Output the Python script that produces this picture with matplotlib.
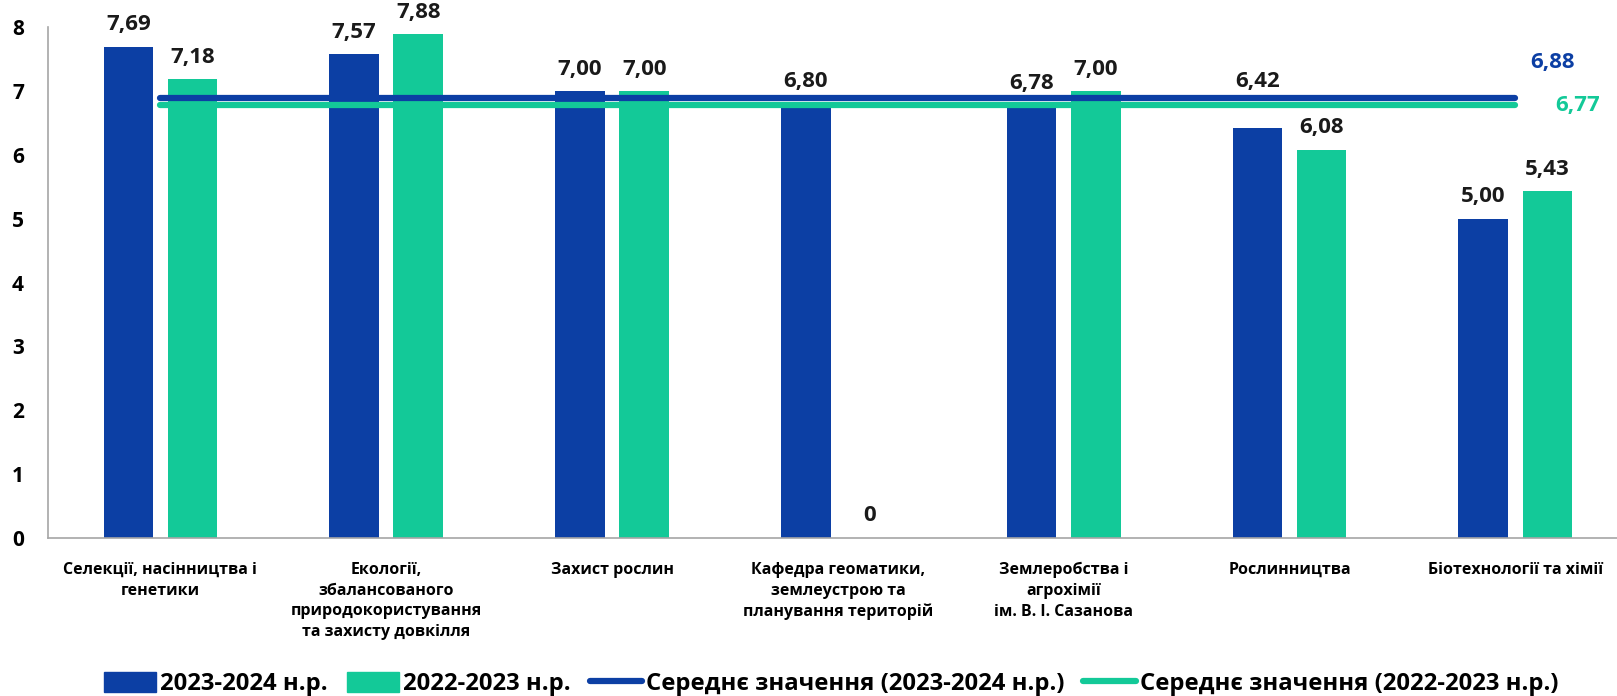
import matplotlib.pyplot as plt
import numpy as np
from matplotlib.patches import Patch
from matplotlib.lines import Line2D

plt.rcParams['font.family'] = ['Open Sans', 'DejaVu Sans']
plt.rcParams['font.weight'] = 'bold'

kafedry = ['Селекції, насінництва і\nгенетики',
           'Екології,\nзбалансованого\nприродокористування\nта захисту довкілля',
           'Захист рослин',
           'Кафедра геоматики,\nземлеустрою та\nпланування територій',
           'Землеробства і\nагрохімії\nім. В. І. Сазанова',
           'Рослинництва',
           'Біотехнології та хімії']
val_2324 = [7.69, 7.57, 7.00, 6.80, 6.78, 6.42, 5.00]
val_2223 = [7.18, 7.88, 7.00, 0, 7.00, 6.08, 5.43]
avg_2324 = 6.88
avg_2223 = 6.77

lbl_2324 = ['7,69', '7,57', '7,00', '6,80', '6,78', '6,42', '5,00']
lbl_2223 = ['7,18', '7,88', '7,00', '0', '7,00', '6,08', '5,43']

blue = '#0C3FA4'
green = '#13C998'

fig = plt.figure(figsize=(16.17, 6.96), dpi=100)
ax = fig.add_axes([47.5 / 1617, 0.2266, 1 - 47.5 / 1617, 0.9616 - 0.2266])

x = np.arange(len(kafedry))
w = 0.22
off = 0.142

ax.bar(x - off, val_2324, w, color=blue)
ax.bar(x + off, val_2223, w, color=green)

for i, (xi, v, t) in enumerate(zip(x, val_2324, lbl_2324)):
    dy = 26 if i == 5 else 8
    ax.annotate(t, (xi - off, v), xytext=(0, dy), textcoords='offset points',
                ha='center', va='bottom', fontsize=16, fontweight='bold', color='#1a1a1a')
for xi, v, t in zip(x, val_2223, lbl_2223):
    ax.annotate(t, (xi + off, v), xytext=(0, 8 if v > 0 else 9), textcoords='offset points',
                ha='center', va='bottom', fontsize=16, fontweight='bold', color='#1a1a1a')

# середні значення
ax.plot([x[0], x[-1]], [avg_2324, avg_2324], color=blue, lw=4.5, solid_capstyle='round', zorder=3)
ax.plot([x[0], x[-1]], [avg_2223, avg_2223], color=green, lw=4.5, solid_capstyle='round', zorder=3)
ax.annotate('6,88', (x[-1], avg_2324), xytext=(27, 26), textcoords='offset points',
            ha='center', va='center', fontsize=16, fontweight='bold', color=blue)
ax.annotate('6,77', (x[-1], avg_2223), xytext=(45, 0), textcoords='offset points',
            ha='center', va='center', fontsize=16, fontweight='bold', color=green)

ax.set_xlim(-0.5, 6.45)
ax.set_ylim(0, 8)
ax.set_yticks(range(0, 9))
ax.set_xticks(x)
ax.set_xticklabels(kafedry, fontsize=11.5, fontweight='bold', linespacing=1.4)
ax.tick_params(axis='y', length=0, pad=17, labelsize=15)
ax.tick_params(axis='x', length=0, pad=17)
for lab in ax.get_yticklabels():
    lab.set_fontweight('bold')

for s in ['top', 'right']:
    ax.spines[s].set_visible(False)
ax.spines['left'].set_color('#A6A6A6')
ax.spines['bottom'].set_color('#A6A6A6')
ax.spines['left'].set_linewidth(1.2)
ax.spines['bottom'].set_linewidth(1.2)

handles = [Patch(color=blue), Patch(color=green),
           Line2D([0], [0], color=blue, lw=4.5, solid_capstyle='round'),
           Line2D([0], [0], color=green, lw=4.5, solid_capstyle='round')]
labels = ['2023-2024 н.р.', '2022-2023 н.р.',
          'Середнє значення (2023-2024 н.р.)', 'Середнє значення (2022-2023 н.р.)']
fig.legend(handles, labels, loc='center', bbox_to_anchor=(831 / 1617, 0.017), ncol=4,
           frameon=False, prop={'size': 17.2, 'weight': 'bold'}, handlelength=2.2,
           handleheight=0.9, handletextpad=0.15, columnspacing=0.8)

fig.savefig('out.png', dpi=100)
